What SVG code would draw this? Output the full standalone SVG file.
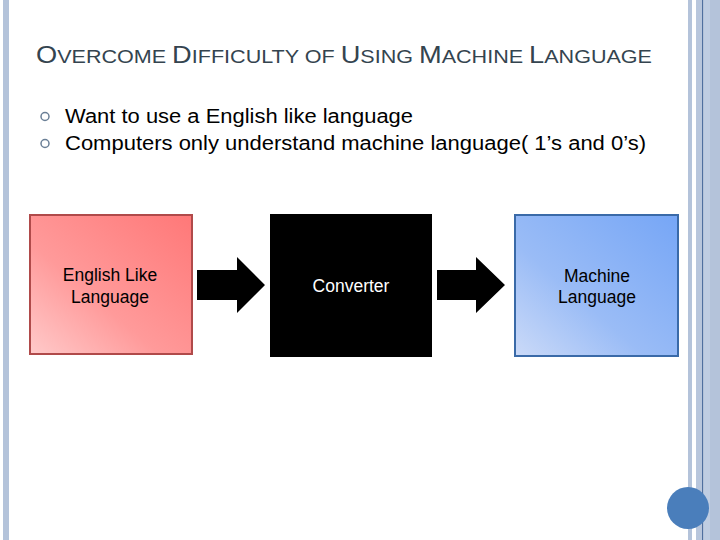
<svg xmlns="http://www.w3.org/2000/svg" width="720" height="540" viewBox="0 0 720 540">
<style>
.title{font-family:"Liberation Sans",Arial,sans-serif;fill:#34444f}
.bul{font-family:"Liberation Sans",Arial,sans-serif;font-size:20px;fill:#000}
.lbl{font-family:"Liberation Sans",Arial,sans-serif;font-size:17.5px;text-anchor:middle}
</style>
<defs>
<linearGradient id="gRed" x1="1" y1="0" x2="0" y2="1">
<stop offset="0" stop-color="#ff7878"/>
<stop offset="0.6" stop-color="#ff9a9a"/>
<stop offset="1" stop-color="#ffcaca"/>
</linearGradient>
<linearGradient id="gBlue" x1="1" y1="0" x2="0" y2="1">
<stop offset="0" stop-color="#76a6f6"/>
<stop offset="0.6" stop-color="#9abcf6"/>
<stop offset="1" stop-color="#cbdaf8"/>
</linearGradient>
</defs>
<rect width="720" height="540" fill="#fff"/>
<rect x="3" y="0" width="6" height="540" fill="#b4c3da"/>
<rect x="688" y="0" width="4" height="540" fill="#b4c3da"/>
<rect x="696" y="0" width="6" height="540" fill="#b8c6dc"/>
<rect x="702" y="0" width="1.5" height="540" fill="#4f6f9f"/>
<rect x="703.5" y="0" width="6.5" height="540" fill="#bfcde2"/>
<rect x="710" y="0" width="10" height="540" fill="#b4c3da"/>
<circle cx="688" cy="508" r="21" fill="#4a7ebb"/>
<text class="title" x="36" y="63" textLength="616" lengthAdjust="spacingAndGlyphs"><tspan font-size="24">O</tspan><tspan font-size="19">VERCOME </tspan><tspan font-size="24">D</tspan><tspan font-size="19">IFFICULTY OF </tspan><tspan font-size="24">U</tspan><tspan font-size="19">SING </tspan><tspan font-size="24">M</tspan><tspan font-size="19">ACHINE </tspan><tspan font-size="24">L</tspan><tspan font-size="19">ANGUAGE</tspan></text>
<circle cx="45" cy="116.5" r="4" fill="none" stroke="#6a7f96" stroke-width="1.5"/>
<circle cx="45" cy="143.5" r="4" fill="none" stroke="#6a7f96" stroke-width="1.5"/>
<text class="bul" x="65" y="123" textLength="348" lengthAdjust="spacingAndGlyphs">Want to use a English like language</text>
<text class="bul" x="65" y="150" textLength="581" lengthAdjust="spacingAndGlyphs">Computers only understand machine language( 1’s and 0’s)</text>
<g id="english">
<rect x="30" y="215" width="162" height="139" fill="url(#gRed)" stroke="#b04a4a" stroke-width="2"/>
<text class="lbl" x="110" y="281" fill="#000">English Like</text>
<text class="lbl" x="110" y="303" fill="#000">Language</text>
</g>
<g id="converter">
<rect x="270" y="214" width="162" height="143" fill="#000"/>
<text class="lbl" x="351" y="292" fill="#fff">Converter</text>
</g>
<g id="machine">
<rect x="515" y="215" width="163" height="141" fill="url(#gBlue)" stroke="#3a6aa8" stroke-width="2"/>
<text class="lbl" x="597" y="282" fill="#000">Machine</text>
<text class="lbl" x="597" y="303" fill="#000">Language</text>
</g>
<g id="connectors">
<polygon points="197,270 237,270 237,257 265,285 237,313 237,300 197,300" fill="#000"/>
<polygon points="437,270 476,270 476,257 505,285 476,313 476,300 437,300" fill="#000"/>
</g>
</svg>
